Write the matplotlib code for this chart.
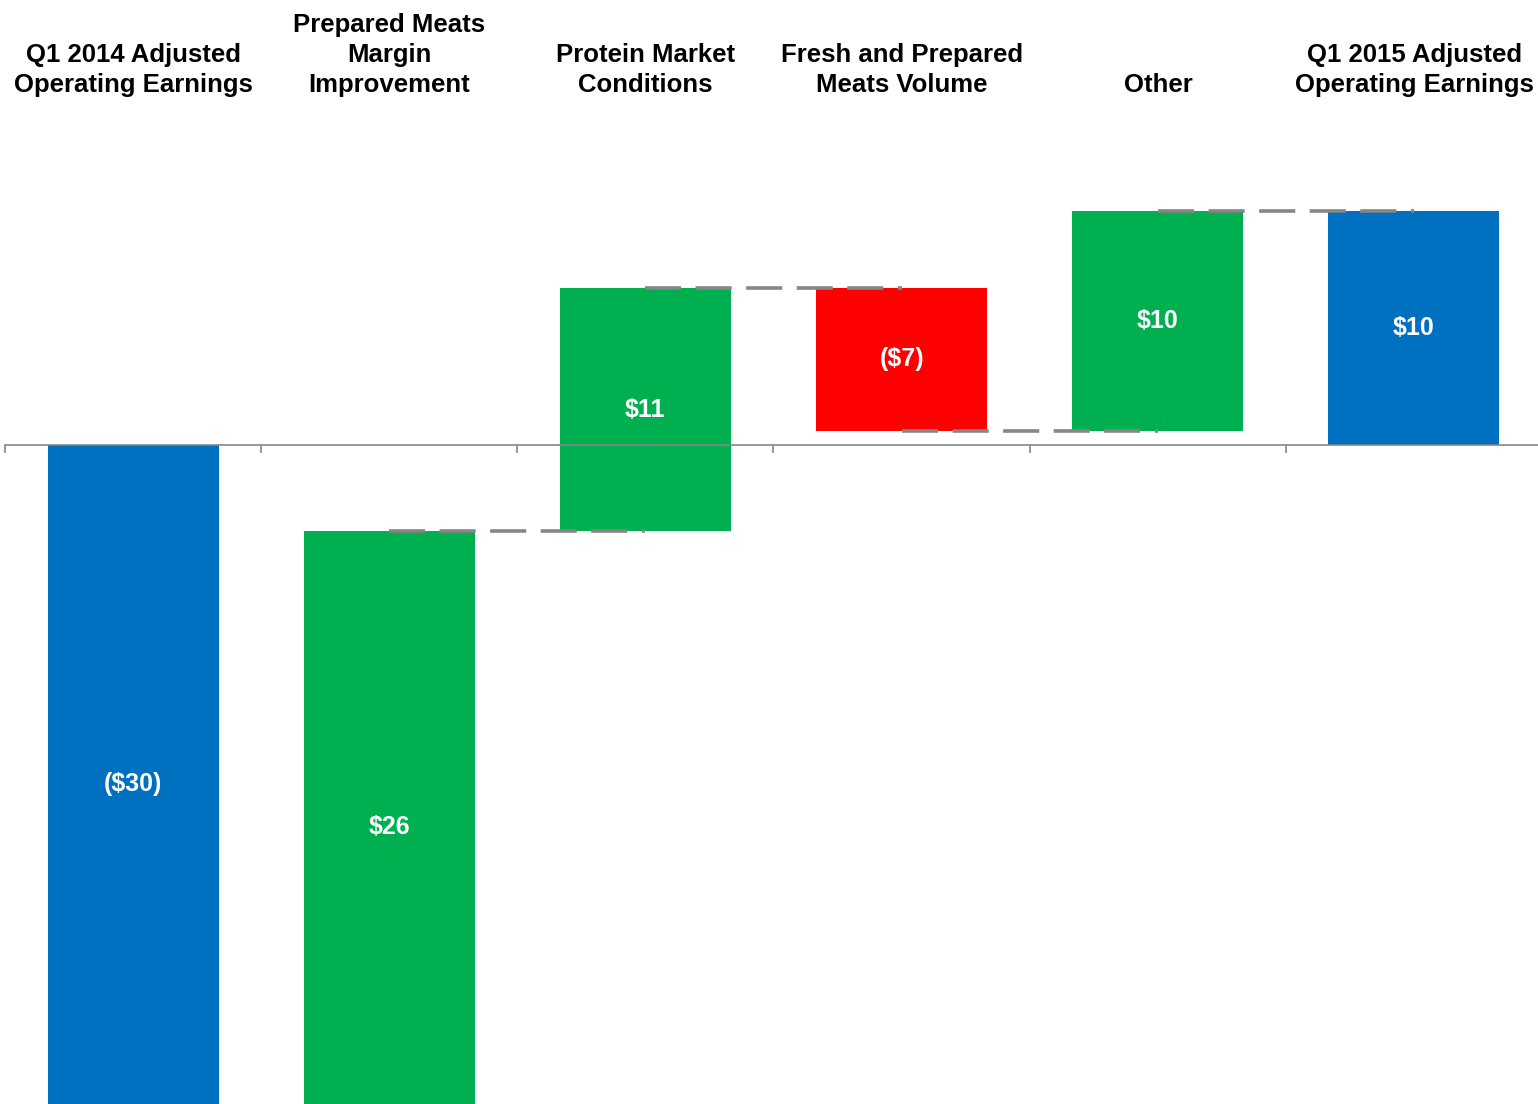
"""Waterfall: Q1 2014 to Q1 2015 adjusted operating earnings bridge."""

import numpy as np
import matplotlib
matplotlib.use("Agg")
import matplotlib.pyplot as plt

plt.rcParams["font.family"] = ["Liberation Sans", "DejaVu Sans"]

categories = [
    "Q1 2014 Adjusted\nOperating Earnings",
    "Prepared Meats\nMargin\nImprovement",
    "Protein Market\nConditions",
    "Fresh and Prepared\nMeats Volume",
    "Other",
    "Q1 2015 Adjusted\nOperating Earnings",
]
start_value = -29.0
deltas = [25.32, 10.39, -6.11, 9.40]
end_value = 10.0
value_labels = ["($30)", "$26", "$11", "($7)", "$10", "$10"]

BLUE = "#0070C0"
GREEN = "#00B050"
RED = "#FF0000"
GRAY = "#868686"

# build bottoms / heights for the floating bars
levels = np.concatenate([[start_value], start_value + np.cumsum(deltas)])
bottoms = [0.0] + list(levels[:-1]) + [0.0]
heights = [start_value] + deltas + [end_value]
colors = [BLUE] + [GREEN if d > 0 else RED for d in deltas] + [BLUE]

W, H = 1538, 1104
fig = plt.figure(figsize=(W / 100, H / 100), dpi=100)
ax = fig.add_axes([5 / W, 0, 1537 / W, 1])

x = np.arange(len(categories))
ax.bar(x, heights, bottom=bottoms, width=0.668, color=colors, zorder=2)

# dashed connectors between bar centres
for i, lvl in enumerate(levels):
    ax.plot([i, i + 1], [lvl, lvl], color=GRAY, lw=2.6,
            dashes=(10, 4), solid_capstyle="round", zorder=3)

# value labels
for xi, b, h, lab in zip(x, bottoms, heights, value_labels):
    ax.text(xi, b + h / 2, lab, ha="center", va="center", color="white",
            fontsize=18, fontweight="bold", zorder=4)

# category labels above the plot
for xi, cat in zip(x, categories):
    xf = (5 + (xi + 0.5) * 256.2) / W
    fig.text(xf, 1 - 97 / H, cat, ha="center", va="bottom", fontsize=18.5,
             fontweight="bold", linespacing=1.32, color="black")

px_per_unit = (445 - 211) / 10.0
ax.set_ylim(-(H - 445) / px_per_unit, 445 / px_per_unit)
ax.set_xlim(-0.5, len(categories) - 0.5)

for side in ["top", "left", "right"]:
    ax.spines[side].set_visible(False)
ax.spines["bottom"].set_position(("data", 0))
ax.spines["bottom"].set_color(GRAY)
ax.spines["bottom"].set_linewidth(1.2)
ax.spines["bottom"].set_zorder(2.5)
ax.set_xticks(np.arange(-0.5, len(categories), 1.0))
ax.set_xticklabels([])
ax.tick_params(axis="x", direction="out", length=6, width=1.2, color=GRAY)
ax.set_yticks([])

fig.savefig("out.png", dpi=100)
